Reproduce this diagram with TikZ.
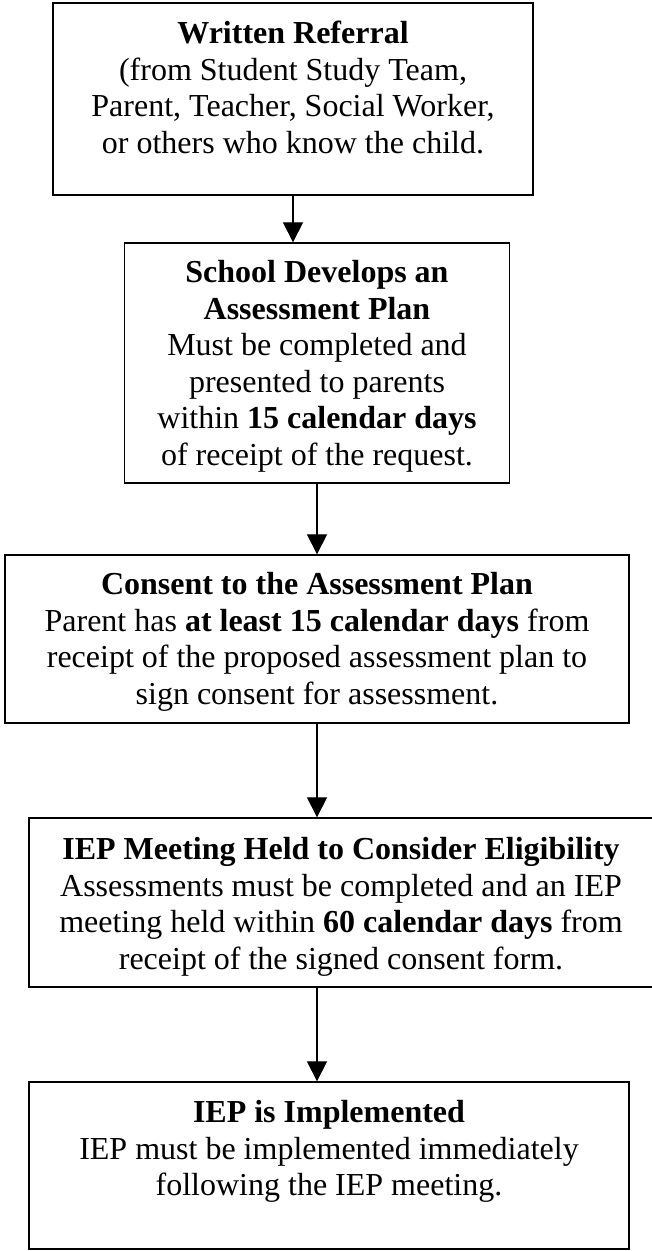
\documentclass[tikz,border=0pt]{standalone}
\usepackage{fontspec}
\setmainfont{Liberation Serif}
\usetikzlibrary{arrows.meta,calc}
\newcommand\boxfont{\fontsize{32}{36.6}\selectfont}
\begin{document}
\begin{tikzpicture}[x=1pt,y=-1pt,
  flowbox/.style={draw=black,line width=1.3pt,rectangle,inner sep=0pt,fill=white},
  boxtext/.style={anchor=north,inner sep=0pt,align=center,font=\boxfont},
  arr/.style={line width=1.1pt,-{Triangle[length=20pt,width=20pt]}}]
\useasboundingbox[fill=white] (0,0) rectangle (652,1251);
% boxes
\node[flowbox,minimum width=480pt,minimum height=192pt] (b1) at (293,99) {};
\node[flowbox,minimum width=385pt,minimum height=240pt] (b2) at (317,363) {};
\node[flowbox,minimum width=624pt,minimum height=168pt] (b3) at (317,639) {};
\node[flowbox,minimum width=630pt,minimum height=169pt] (b4) at (344,902.5) {};
\node[flowbox,minimum width=600pt,minimum height=167pt] (b5) at (329,1165.5) {};
% texts
\node[boxtext] (t1) at ($(b1.north)+(0,15.4)$) {\strut\textbf{Written Referral}\\(from Student Study Team,\\Parent, Teacher, Social Worker,\\or others who know the child.};
\node[boxtext] (t2) at ($(b2.north)+(0,14.4)$) {\strut\textbf{School Develops an}\\\textbf{Assessment Plan}\\Must be completed and\\presented to parents\\within \textbf{15 calendar days}\\of receipt of the request.};
\node[boxtext] (t3) at ($(b3.north)+(0,14.4)$) {\strut\textbf{Consent to the Assessment Plan}\\Parent has \textbf{at least 15 calendar days} from\\receipt of the proposed assessment plan to\\sign consent for assessment.};
\node[boxtext] (t4) at ($(b4.north)+(-3,16.4)$) {\strut\textbf{IEP Meeting Held to Consider Eligibility}\\Assessments must be completed and an IEP\\meeting held within \textbf{60 calendar days} from\\receipt of the signed consent form.};
\node[boxtext] (t5) at ($(b5.north)+(0,15.4)$) {\strut\textbf{IEP is Implemented}\\IEP must be implemented immediately\\following the IEP meeting.};
% connectors
\draw[arr] (b1.south) -- (b1.south |- b2.north);
\draw[arr] (b2.south) -- (b2.south |- b3.north);
\draw[arr] (b3.south) -- (b3.south |- b4.north);
\draw[arr] (b3.south |- b4.south) -- (b3.south |- b5.north);
\end{tikzpicture}
\end{document}
